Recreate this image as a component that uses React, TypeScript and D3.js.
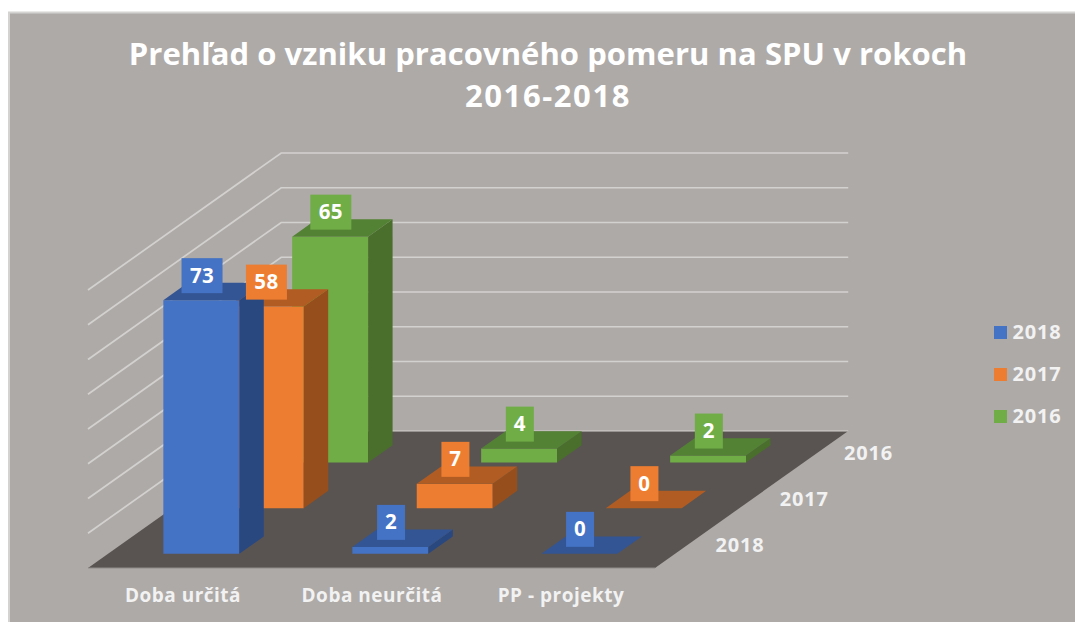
import React from "react";
import * as d3 from "d3";

const categories = ["Doba určitá", "Doba neurčitá", "PP - projekty"];
const seriesNames = ["2018", "2017", "2016"];
const values2018 = [73, 2, 0];
const values2017 = [58, 7, 0];
const values2016 = [65, 4, 2];
const allValues = [values2018, values2017, values2016];
const gridTicks = d3.range(10, 90, 10);
const titleLines = ["Prehľad o vzniku pracovného pomeru na SPU v rokoch", "2016-2018"];

const palette = [
  { front: "#4472c4", top: "#335593", side: "#2a4880" },
  { front: "#ed7d31", top: "#b15c22", side: "#964f1c" },
  { front: "#70ad47", top: "#548235", side: "#4a6f2c" },
];

const FONT = "'Open Sans', sans-serif";
const W = 1075, H = 622;
const X0 = 88, FLOOR_FRONT = 568;
const CAT_W = 189, SLOT_DX = 64.4, SLOT_DY = 45.67;

const catX = d3.scaleLinear().domain([0, 3]).range([0, 3 * CAT_W]);
const depthX = d3.scaleLinear().domain([0, 3]).range([0, 3 * SLOT_DX]);
const depthY = d3.scaleLinear().domain([0, 3]).range([0, 3 * SLOT_DY]);
const valY = d3.scaleLinear().domain([0, 80]).range([0, 278]);

const pt = (c: number, d: number, v: number): [number, number] => [
  X0 + catX(c) + depthX(d),
  FLOOR_FRONT - depthY(d) - valY(v),
];
const line = d3.line();
const poly = (pts: [number, number][]) => line(pts) + "Z";

const BAR_C0 = 0.293, BAR_CW = 0.402, BAR_D = 0.31;

function Bar({ c, s, v }: { c: number; s: number; v: number }) {
  const c0 = c + BAR_C0, c1 = c0 + BAR_CW;
  const d0 = s + BAR_D, d1 = s + 1 - BAR_D;
  const col = palette[s];
  return (
    <g>
      {v > 0 && <path d={poly([pt(c0, d0, 0), pt(c1, d0, 0), pt(c1, d0, v), pt(c0, d0, v)])} fill={col.front} />}
      {v > 0 && <path d={poly([pt(c1, d0, 0), pt(c1, d1, 0), pt(c1, d1, v), pt(c1, d0, v)])} fill={col.side} />}
      <path d={poly([pt(c0, d0, v), pt(c1, d0, v), pt(c1, d1, v), pt(c0, d1, v)])} fill={col.top} />
    </g>
  );
}

function Label({ c, s, v }: { c: number; s: number; v: number }) {
  const [fx, ty] = pt(c + BAR_C0 + BAR_CW / 2, s + BAR_D, v);
  const lx = fx + 0.7;
  const text = String(v);
  const w = text.length > 1 ? 41 : 28;
  const cy = ty - 24.5;
  return (
    <g>
      <rect x={lx - w / 2} y={cy - 17.5} width={w} height={35} fill={palette[s].front} />
      <text x={lx} y={cy + 7} textAnchor="middle" fontSize={20.5} letterSpacing={0.4} fontWeight={700} fill="#fff" fontFamily={FONT}>{text}</text>
    </g>
  );
}

export default function App() {
  const series = [2, 1, 0];
  const grid = "#d3d1cf";
  const labelProps = { fontSize: 19, fontWeight: 700, fill: "#f2f2f2", fontFamily: FONT, letterSpacing: 0.5 };
  const digitProps = { ...labelProps, fontSize: 20, letterSpacing: 0.8 };
  return (
    <svg width={W} height={H} viewBox={`0 0 ${W} ${H}`} style={{ position: "absolute", left: 0, top: 0, background: "#fff" }}>
      <rect x={8} y={12} width={W - 8} height={H - 12} fill="#aeaaa8" />
      <path d={d3.line()([[9, H], [9, 12.5], [W, 12.5]]) as string} fill="none" stroke="#d4d3d2" strokeWidth={2} />
      {titleLines.map((t, i) => (
        <text key={t} x={548} y={65 + i * 42} textAnchor="middle" fontSize={31} letterSpacing={i === 1 ? 1.6 : 0.05} fontWeight={700} fill="#fff" fontFamily={FONT}>{t}</text>
      ))}
      {gridTicks.map((t) => {
        const a = pt(0, 0, t), b = pt(0, 3, t), e = pt(3, 3, t);
        return <path key={t} d={d3.line()([a, b, e]) as string} fill="none" stroke={grid} strokeWidth={1.7} />;
      })}
      <path d={poly([pt(0, 0, 0), pt(3, 0, 0), pt(3, 3, 0), pt(0, 3, 0)])} fill="#595452" />
      <path d={d3.line()([pt(0, 3, 0), pt(3, 3, 0)]) as string} fill="none" stroke={grid} strokeWidth={1.2} />
      <path d={d3.line()([pt(0, 0, 0), pt(3, 0, 0)]) as string} fill="none" stroke="#8f8b89" strokeWidth={1.2} />
      {series.map((s) =>
        allValues[s].map((v, c) => <Bar key={`${s}-${c}`} c={c} s={s} v={v} />)
      )}
      {series.map((s) =>
        allValues[s].map((v, c) => <Label key={`${s}-${c}`} c={c} s={s} v={v} />)
      )}
      {categories.map((t, c) => (
        <text key={t} x={pt(c + 0.5, 0, 0)[0] + 0.5} y={602} textAnchor="middle" {...labelProps}>{t}</text>
      ))}
      {seriesNames.map((t, s) => (
        <text key={t} x={740 + s * 64.2} y={552 - s * 46} textAnchor="middle" {...digitProps}>{t}</text>
      ))}
      {seriesNames.map((t, s) => (
        <g key={t}>
          <rect x={994} y={326 + s * 42} width={13} height={13} fill={palette[s].front} />
          <text x={1012.5} y={339 + s * 42} {...digitProps}>{t}</text>
        </g>
      ))}
    </svg>
  );
}
